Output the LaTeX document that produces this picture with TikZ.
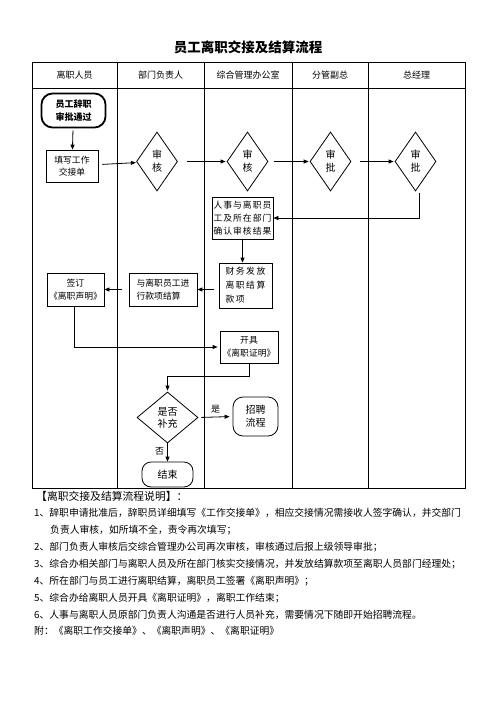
\documentclass[tikz,border=0pt]{standalone}
\usepackage{fontspec}
\setmainfont{Noto Sans CJK SC}
\usetikzlibrary{shapes.geometric,arrows.meta}
\newcommand{\ls}{\hspace{1pt}}
\tikzset{
  box/.style={draw, line width=0.8pt, inner sep=0pt, align=center, font=\fontsize{8.8}{12}\selectfont},
  dia/.style={draw, diamond, line width=0.8pt, inner sep=0pt, minimum width=41pt, minimum height=59pt, align=center, font=\fontsize{10}{13}\selectfont},
  term/.style={draw, line width=0.8pt, rounded corners=10pt, inner sep=0pt, align=center, font=\fontsize{10}{13}\selectfont},
  flow/.style={line width=0.8pt, -{Triangle[length=5pt,width=4pt]}},
  grid/.style={line width=1pt},
  hdr/.style={font=\fontsize{9}{11}\selectfont},
  note/.style={anchor=west, inner sep=0pt, font=\fontsize{9.8}{12}\selectfont},
  lbl/.style={inner sep=0pt, font=\fontsize{9}{11}\selectfont}
}
\begin{document}
\begin{tikzpicture}[x=1pt,y=-1pt]
\useasboundingbox (0,0) rectangle (496,702);
% title
\node[font=\fontsize{13.5}{15}\selectfont\bfseries] (title) at (248,47) {员工离职交接及结算流程};
% table
\draw[grid] (32,62) rectangle (465,488);
\draw[grid] (32,88) -- (465,88);
\foreach \x in {117,204,292,368} \draw[grid] (\x,62) -- (\x,488);
\node[hdr] (h1) at (74.5,75) {离职人员};
\node[hdr] (h2) at (160.5,75) {部门负责人};
\node[hdr] (h3) at (248,75) {综合管理办公室};
\node[hdr] (h4) at (330,75) {分管副总};
\node[hdr] (h5) at (416.5,75) {总经理};
% nodes
\node[draw, line width=1.8pt, rounded corners=11pt, minimum width=64pt, minimum height=34pt, align=center, inner sep=0pt, font=\fontsize{9}{13}\selectfont\bfseries] (start) at (73.5,110.5) {员工辞职\\审批通过};
\node[box, minimum width=52pt, minimum height=32pt] (fill) at (72,166) {填写工作\\交接单};
\node[dia] (d1) at (157,161.5) {审\\核};
\node[dia] (d2) at (247.5,161.5) {审\\核};
\node[dia] (d3) at (330.5,161.5) {审\\批};
\node[dia] (d4) at (415.5,161.5) {审\\批};
\node[box, minimum width=61pt, minimum height=42pt, font=\fontsize{8.8}{13}\selectfont] (confirm) at (242.5,218) {人\ls 事\ls 与\ls 离\ls 职\ls 员\\工\ls 及\ls 所\ls 在\ls 部\ls 门\\确\ls 认\ls 审\ls 核\ls 结\ls 果};
\node[box, minimum width=53pt, minimum height=45pt, font=\fontsize{8.8}{14}\selectfont] (finance) at (245.5,285.5) {财\,务\,发\,放\\离\,职\,结\,算\\款\,项\hphantom{\,发\,放}};
\node[box, minimum width=68pt, minimum height=33pt, font=\fontsize{8.8}{13}\selectfont] (settle) at (163,289.5) {与离职员工进\\行款项结算\hphantom{进}};
\node[box, minimum width=57pt, minimum height=33pt, font=\fontsize{8.8}{13}\selectfont] (sign) at (75.5,289.5) {签订\\《离职声明》};
\node[box, minimum width=58pt, minimum height=32pt, font=\fontsize{8.8}{13}\selectfont] (cert) at (249,347) {开具\\《离职证明》};
\node[dia, minimum width=61pt, minimum height=51pt, font=\fontsize{10}{12}\selectfont] (q) at (167.5,417.5) {是否\\补充};
\node[term, minimum width=45pt, minimum height=39pt] (recruit) at (255.5,416.5) {招聘\\流程};
\node[term, rounded corners=9pt, minimum width=51pt, minimum height=25pt] (end) at (167.5,474.5) {结束};
% connectors
\draw[flow, shorten <=2pt] (start) -- (fill);
\draw[flow, shorten <=4pt, shorten >=1pt] (fill) -- (d1);
\draw[flow, shorten <=9pt, shorten >=1pt] (d1) -- (d2);
\draw[flow, shorten <=6pt, shorten >=1pt] (d2) -- (d3);
\draw[flow, shorten <=9pt, shorten >=1pt] (d3) -- (d4);
\draw[flow, shorten <=2pt] ([xshift=3.5pt]d4.south) |- (confirm.east);
\draw[flow] (confirm.south) -- (confirm.south |- finance.north);
\draw[flow, shorten <=5pt] (finance.west |- settle.east) -- (settle.east);
\draw[flow, shorten <=7pt] (settle.west) -- (sign.east);
\draw[flow, shorten >=2pt] ([xshift=-1.5pt]sign.south) |- (cert.west);
\draw[flow, shorten >=1pt] (cert.south) -- ++(0,13) -| (q.north);
\draw[flow, shorten <=3pt, shorten >=3pt] (q.east) -- node[lbl, above=3pt] (yes) {是} (recruit.west);
\draw[flow] (q.south) -- node[lbl, left=3pt, pos=0.45] (no) {否} (end.north);
% notes
\node[note, font=\fontsize{10.8}{12}\selectfont] (n0) at (36,496) {【离职交接及结算流程说明】：};
\node[note] (n1) at (34,513) {1、辞职申请批准后，辞职员详细填写《工作交接单》，相应交接情况需接收人签字确认，并交部门};
\node[note] (n1b) at (50,530) {负责人审核，如所填不全，责令再次填写；};
\node[note] (n2) at (34,547) {2、部门负责人审核后交综合管理办公司再次审核，审核通过后报上级领导审批；};
\node[note] (n3) at (34,564) {3、综合办相关部门与离职人员及所在部门核实交接情况，并发放结算款项至离职人员部门经理处；};
\node[note] (n4) at (34,581) {4、所在部门与员工进行离职结算，离职员工签署《离职声明》；};
\node[note] (n5) at (34,598) {5、综合办给离职人员开具《离职证明》，离职工作结束；};
\node[note] (n6) at (34,615) {6、人事与离职人员原部门负责人沟通是否进行人员补充，需要情况下随即开始招聘流程。};
\node[note] (n7) at (34,631) {附：《离职工作交接单》、《离职声明》、《离职证明》};
\end{tikzpicture}
\end{document}
